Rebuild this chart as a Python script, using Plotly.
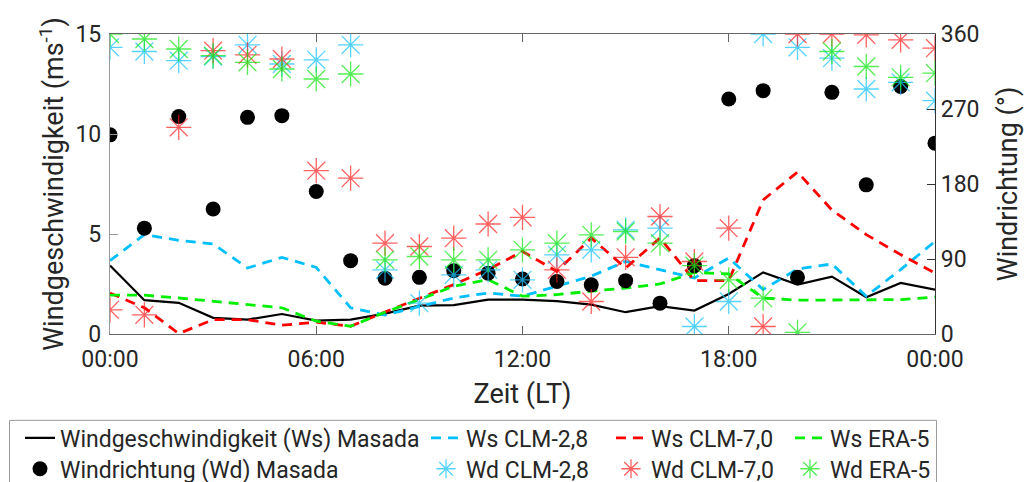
import plotly.graph_objects as go

hours = list(range(25))
tick_vals = [0, 6, 12, 18, 24]
tick_text = ["00:00", "06:00", "12:00", "18:00", "00:00"]

# Wind speed (m/s)
ws_masada = [3.43, 1.69, 1.56, 0.81, 0.72, 1.0, 0.67, 0.72, 1.02, 1.42, 1.44, 1.72, 1.72, 1.64, 1.47,
             1.09, 1.39, 1.17, 2.0, 3.08, 2.47, 2.87, 1.84, 2.55, 2.22]
ws_clm28 = [3.67, 4.97, 4.68, 4.5, 3.3, 3.83, 3.33, 1.31, 0.95, 1.39, 1.8, 2.05, 1.89, 2.39, 2.89,
            3.63, 3.22, 2.8, 3.8, 2.22, 3.25, 3.5, 1.89, 3.22, 4.63]
ws_clm70 = [2.05, 1.31, 0.02, 0.72, 0.72, 0.44, 0.59, 0.39, 1.1, 1.8, 2.47, 3.22, 4.13, 3.13, 4.8,
            3.3, 4.8, 2.67, 2.67, 6.7, 8.1, 6.2, 4.97, 3.97, 3.05]
ws_era5 = [1.94, 1.94, 1.8, 1.64, 1.47, 1.31, 0.64, 0.39, 1.09, 1.72, 2.39, 2.72, 1.89, 1.97, 2.14,
           2.3, 2.5, 3.08, 3.0, 1.8, 1.69, 1.69, 1.69, 1.72, 1.85]

# Wind direction (deg)
wd_masada = [239, 127, 261, 150, 260, 262, 171, 88, 67, 68, 76, 73, 66, 63, 59, 64, 37, 82,
             282, 292, 68, 290, 179, 297, 229]
wd_clm28 = [344, 339, 328, 333, 347, 324, 329, 347, 77, 37, 71, 77, 65, 95, 101, 125, 127, 9,
            39, 360, 344, 331, 294, 302, 280]
wd_clm70 = [29, 23, 248, 340, 335, 330, 196, 187, 109, 105, 115, 132, 140, 77, 39, 92, 141, 87,
            127, 9, 360, 360, 359, 353, 343]
wd_era5 = [360, 354, 342, 334, 326, 318, 306, 312, 89, 93, 89, 89, 101, 109, 119, 123, 109, 82,
           65, 43, 2, 339, 321, 308, 313]

TXT = "#262626"
FONT = "Roboto"
C_BLUE = "#00bfff"
C_RED = "#ff0000"
C_GREEN = "#00ee00"

fig = go.Figure()

dash = "10px,7px"
fig.add_trace(go.Scatter(x=hours, y=ws_masada, mode="lines", name="Windgeschwindigkeit (Ws) Masada",
                         line=dict(color="black", width=2.2), legend="legend", showlegend=True))
fig.add_trace(go.Scatter(x=hours, y=ws_clm28, mode="lines", name="Ws CLM-2,8",
                         line=dict(color=C_BLUE, width=2.8, dash=dash), legend="legend2"))
fig.add_trace(go.Scatter(x=hours, y=ws_clm70, mode="lines", name="Ws CLM-7,0",
                         line=dict(color=C_RED, width=2.8, dash=dash), legend="legend3"))
fig.add_trace(go.Scatter(x=hours, y=ws_era5, mode="lines", name="Ws ERA-5",
                         line=dict(color=C_GREEN, width=2.8, dash=dash), legend="legend4"))

fig.add_trace(go.Scatter(x=hours, y=wd_masada, mode="markers", name="Windrichtung (Wd) Masada",
                         marker=dict(color="black", size=15, line=dict(width=0)),
                         yaxis="y2", legend="legend5"))

def star(y, name, rgba, leg):
    return go.Scatter(x=hours, y=y, mode="markers", name=name, yaxis="y2", legend=leg,
                      marker=dict(symbol="asterisk-open", size=21, color=rgba,
                                  line=dict(color=rgba, width=1.3)))

fig.add_trace(star(wd_clm28, "Wd CLM-2,8", "rgba(30,195,255,0.75)", "legend6"))
fig.add_trace(star(wd_clm70, "Wd CLM-7,0", "rgba(255,30,30,0.7)", "legend7"))
fig.add_trace(star(wd_era5, "Wd ERA-5", "rgba(20,230,20,0.72)", "legend8"))

L, R, T, B = 110, 95, 34, 147.5
W, H = 1030, 482
ph = H - T - B
pw = W - L - R

def px2x(px):
    return (px - L) / pw

def py2y(py):
    return (H - B - py) / ph

leg_common = dict(orientation="v", yanchor="top", xanchor="left", bgcolor="rgba(0,0,0,0)",
                  borderwidth=0, font=dict(family=FONT, size=23, color=TXT),
                  tracegroupgap=0, itemwidth=30, visible=True)
row1 = py2y(417)
row2 = py2y(448)
col_x = [px2x(20), px2x(426), px2x(611), px2x(790)]
fig.update_layout(
    showlegend=True,
    legend=dict(x=col_x[0], y=row1, **leg_common),
    legend2=dict(x=col_x[1], y=row1, **leg_common),
    legend3=dict(x=col_x[2], y=row1, **leg_common),
    legend4=dict(x=col_x[3], y=row1, **leg_common),
    legend5=dict(x=col_x[0], y=row2, **leg_common),
    legend6=dict(x=col_x[1], y=row2, **leg_common),
    legend7=dict(x=col_x[2], y=row2, **leg_common),
    legend8=dict(x=col_x[3], y=row2, **leg_common),
)

fig.add_shape(type="rect", xref="paper", yref="paper",
              x0=px2x(9.5), x1=px2x(936.5), y0=py2y(520), y1=py2y(421),
              line=dict(color="#9a9a9a", width=1), fillcolor="rgba(0,0,0,0)", layer="below")

axis_common = dict(showgrid=False, zeroline=False, showline=True, linewidth=1.3,
                   ticks="inside", ticklen=8, automargin=False,
                   tickfont=dict(family=FONT, size=23, color=TXT))

fig.update_layout(
    template="none",
    width=W, height=H,
    margin=dict(l=L, r=R, t=T, b=B, pad=0, autoexpand=False),
    paper_bgcolor="white", plot_bgcolor="white",
    font=dict(family=FONT, color=TXT, size=23),
    xaxis=dict(range=[0, 24], tickvals=tick_vals, ticktext=tick_text,
               linecolor="#666666", mirror="ticks", tickcolor="#666666", ticklabelstandoff=4,
               title=dict(text="Zeit (LT)", font=dict(family=FONT, size=27, color=TXT), standoff=12),
               **axis_common),
    yaxis=dict(range=[0, 15], tickvals=[0, 5, 10, 15],
               linecolor="#999999", tickcolor="#999999", ticklabelstandoff=3,
               title=dict(text="Windgeschwindigkeit (ms<sup>-1</sup>)",
                          font=dict(family=FONT, size=27, color=TXT), standoff=3),
               **axis_common),
    yaxis2=dict(range=[0, 360], tickvals=[0, 90, 180, 270, 360], overlaying="y", side="right",
                linecolor="#333333", tickcolor="#333333",
                title=dict(text="Windrichtung (°)",
                           font=dict(family=FONT, size=27, color=TXT), standoff=19),
                **axis_common),
)

fig.write_html("out.html", post_script="document.body.style.margin='0';",
               config={"displayModeBar": False})
